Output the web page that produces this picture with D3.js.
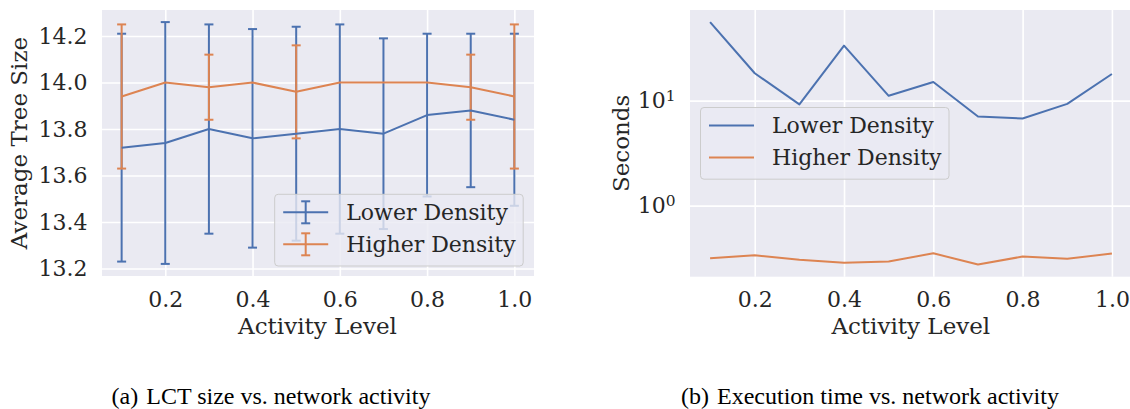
<!DOCTYPE html>
<html>
<head>
<meta charset="utf-8">
<script src="https://cdn.jsdelivr.net/npm/d3@7"></script>
<style>
  html, body { margin: 0; padding: 0; background: #ffffff; }
  svg { display: block; }
</style>
</head>
<body>
<svg id="fig" width="1130" height="409"></svg>
<script>
// Activity levels shared by both panels
const activity = [0.1, 0.2, 0.3, 0.4, 0.5, 0.6, 0.7, 0.8, 0.9, 1.0];

// (a) Average LCT size with standard-deviation error bars
const lowerTreeSize = [13.72, 13.74, 13.80, 13.76, 13.78, 13.80, 13.78, 13.86, 13.88, 13.84];
const lowerTreeErr  = [0.49, 0.52, 0.45, 0.47, 0.46, 0.45, 0.41, 0.35, 0.33, 0.37];
const higherTreeSize = [13.94, 14.00, 13.98, 14.00, 13.96, 14.00, 14.00, 14.00, 13.98, 13.94];
const higherTreeErr  = [0.31, 0, 0.14, 0, 0.20, 0, 0, 0, 0.14, 0.31];

// (b) Execution time in seconds
const lowerSeconds  = [55.8, 18.2, 9.2, 33.3, 11.1, 15.0, 7.05, 6.75, 9.3, 17.9];
const higherSeconds = [0.316, 0.337, 0.305, 0.286, 0.294, 0.352, 0.275, 0.328, 0.312, 0.350];

// Tick labels
const xTicks = [0.2, 0.4, 0.6, 0.8, 1.0];
const treeTicks = [13.2, 13.4, 13.6, 13.8, 14.0, 14.2];
const secondTicks = [1, 10];

const seriesNames = ["Lower Density", "Higher Density"];
const captions = [["(a)", "LCT size vs. network activity"], ["(b)", "Execution time vs. network activity"]];

const BLUE = "#4C72B0", ORANGE = "#DD8452";
const BG = "#EAEAF2", INK = "#262626";
const FONT = "'DejaVu Serif', serif";
const TICK_FS = 22, LABEL_FS = 23, LEGEND_FS = 22, CAPTION_FS = 24;

const svg = d3.select("#fig");

// matplotlib-like 5% margins
function padded(lo, hi) { const m = (hi - lo) * 0.05; return [lo - m, hi + m]; }
const xDomain = padded(d3.min(activity), d3.max(activity));

function panelFrame(g, x, y, w, h, yScale, yTicks, yFmt) {
  g.append("rect").attr("x", 0).attr("y", 0).attr("width", w).attr("height", h).attr("fill", BG);
  // gridlines
  g.append("g").attr("transform", `translate(0,${h})`)
    .call(d3.axisBottom(x).tickValues(xTicks).tickSize(-h).tickFormat(""))
    .call(s => s.select(".domain").remove())
    .call(s => s.selectAll("line").attr("stroke", "#fff").attr("stroke-width", 1.6));
  g.append("g")
    .call(d3.axisLeft(yScale).tickValues(yTicks).tickSize(-w).tickFormat(""))
    .call(s => s.select(".domain").remove())
    .call(s => s.selectAll("line").attr("stroke", "#fff").attr("stroke-width", 1.6));
  // tick labels
  g.append("g").attr("transform", `translate(0,${h})`)
    .call(d3.axisBottom(x).tickValues(xTicks).tickSize(0).tickPadding(15).tickFormat(d3.format(".1f")))
    .call(s => s.select(".domain").remove())
    .call(s => s.selectAll("text").attr("font-size", TICK_FS).attr("font-family", FONT).attr("fill", INK));
  const ya = g.append("g")
    .call(d3.axisLeft(yScale).tickValues(yTicks).tickSize(0).tickPadding(14.5).tickFormat(yFmt))
    .call(s => s.select(".domain").remove())
    .call(s => s.selectAll("text").attr("font-size", TICK_FS).attr("font-family", FONT).attr("fill", INK));
  return ya;
}

function legendBox(g, lx, ly, drawHandle) {
  const lg = g.append("g").attr("transform", `translate(${lx},${ly})`);
  lg.append("rect").attr("x", 0).attr("y", 0).attr("width", 248.5).attr("height", 71.7)
    .attr("rx", 3.5).attr("fill", BG).attr("fill-opacity", 0.8)
    .attr("stroke", "#cccccc").attr("stroke-width", 1);
  seriesNames.forEach((name, i) => {
    const cy = 18 + i * 32;
    const c = i === 0 ? BLUE : ORANGE;
    lg.append("line").attr("x1", 8.5).attr("x2", 53.5).attr("y1", cy).attr("y2", cy)
      .attr("stroke", c).attr("stroke-width", 2);
    if (drawHandle) {
      lg.append("line").attr("x1", 31).attr("x2", 31).attr("y1", cy - 11).attr("y2", cy + 11)
        .attr("stroke", c).attr("stroke-width", 2);
      [cy - 11, cy + 11].forEach(yy => lg.append("line").attr("x1", 26.5).attr("x2", 35.5)
        .attr("y1", yy).attr("y2", yy).attr("stroke", c).attr("stroke-width", 2));
    }
    lg.append("text").attr("x", 71.5).attr("y", cy + 7.5)
      .attr("font-family", FONT).attr("font-size", LEGEND_FS).attr("fill", INK).text(name);
  });
}

// ---------- Panel (a) ----------
{
  const L = 102, T = 10, W = 432, H = 266;
  const g = svg.append("g").attr("transform", `translate(${L},${T})`);
  const x = d3.scaleLinear().domain(xDomain).range([0, W]);
  const lows = activity.map((_, i) => Math.min(lowerTreeSize[i] - lowerTreeErr[i], higherTreeSize[i] - higherTreeErr[i]));
  const highs = activity.map((_, i) => Math.max(lowerTreeSize[i] + lowerTreeErr[i], higherTreeSize[i] + higherTreeErr[i]));
  const y = d3.scaleLinear().domain(padded(d3.min(lows), d3.max(highs))).range([H, 0]);
  panelFrame(g, x, y, W, H, y, treeTicks, d3.format(".1f"));

  const series = [
    { mean: lowerTreeSize, err: lowerTreeErr, color: BLUE },
    { mean: higherTreeSize, err: higherTreeErr, color: ORANGE }
  ];
  // error bars beneath the mean lines
  series.forEach(s => {
    const eg = g.append("g").attr("stroke", s.color).attr("stroke-width", 2);
    activity.forEach((a, i) => {
      if (s.err[i] <= 0) return;
      const xx = x(a), y1 = y(s.mean[i] - s.err[i]), y2 = y(s.mean[i] + s.err[i]);
      eg.append("line").attr("x1", xx).attr("x2", xx).attr("y1", y1).attr("y2", y2);
      [y1, y2].forEach(yy => eg.append("line").attr("x1", xx - 4.5).attr("x2", xx + 4.5).attr("y1", yy).attr("y2", yy));
    });
  });
  series.forEach(s => {
    g.append("path").datum(activity.map((a, i) => [a, s.mean[i]]))
      .attr("fill", "none").attr("stroke", s.color).attr("stroke-width", 2).attr("stroke-linejoin", "round")
      .attr("d", d3.line().x(d => x(d[0])).y(d => y(d[1])));
  });
  legendBox(g, 274.7 - L, 194.3 - T, true);

  g.append("text").attr("transform", `translate(${27 - L},${H / 2}) rotate(-90)`)
    .attr("text-anchor", "middle").attr("font-family", FONT).attr("font-size", LABEL_FS).attr("fill", INK)
    .text("Average Tree Size");
  g.append("text").attr("x", W / 2 - 0.5).attr("y", 334 - T).attr("text-anchor", "middle")
    .attr("font-family", FONT).attr("font-size", LABEL_FS).attr("fill", INK).text("Activity Level");
}

// ---------- Panel (b) ----------
{
  const L = 690, T = 10, W = 442, H = 266.7;
  const g = svg.append("g").attr("transform", `translate(${L},${T})`);
  const x = d3.scaleLinear().domain(xDomain).range([0, W]);
  const all = lowerSeconds.concat(higherSeconds);
  const ld = padded(Math.log10(d3.min(all)), Math.log10(d3.max(all)));
  const y = d3.scaleLog().domain([Math.pow(10, ld[0]), Math.pow(10, ld[1])]).range([H, 0]);
  const ya = panelFrame(g, x, y, W, H, y, secondTicks, () => "");
  // power-of-ten labels with superscript exponent
  ya.selectAll(".tick text").each(function (d) {
    const t = d3.select(this);
    t.append("tspan").text("10");
    t.append("tspan").attr("dy", "-0.45em").attr("font-size", TICK_FS * 0.7).text(Math.round(Math.log10(d)));
  });

  [{ v: lowerSeconds, color: BLUE }, { v: higherSeconds, color: ORANGE }].forEach(s => {
    g.append("path").datum(activity.map((a, i) => [a, s.v[i]]))
      .attr("fill", "none").attr("stroke", s.color).attr("stroke-width", 2).attr("stroke-linejoin", "round")
      .attr("d", d3.line().x(d => x(d[0])).y(d => y(d[1])));
  });
  legendBox(g, 700.5 - L, 107.5 - T, false);

  g.append("text").attr("transform", `translate(${629 - L},${H / 2}) rotate(-90)`)
    .attr("text-anchor", "middle").attr("font-family", FONT).attr("font-size", LABEL_FS).attr("fill", INK)
    .text("Seconds");
  g.append("text").attr("x", 910.8 - L).attr("y", 334 - T).attr("text-anchor", "middle")
    .attr("font-family", FONT).attr("font-size", LABEL_FS).attr("fill", INK).text("Activity Level");
}

// ---------- Sub-figure captions ----------
[271, 870].forEach((cx, i) => {
  const t = svg.append("text").attr("x", cx).attr("y", 404).attr("text-anchor", "middle")
    .attr("font-family", "'Liberation Serif', 'Times New Roman', serif").attr("font-size", CAPTION_FS).attr("fill", "#000");
  t.append("tspan").text(captions[i][0]);
  t.append("tspan").attr("dx", 8).text(captions[i][1]);
});
</script>
</body>
</html>
